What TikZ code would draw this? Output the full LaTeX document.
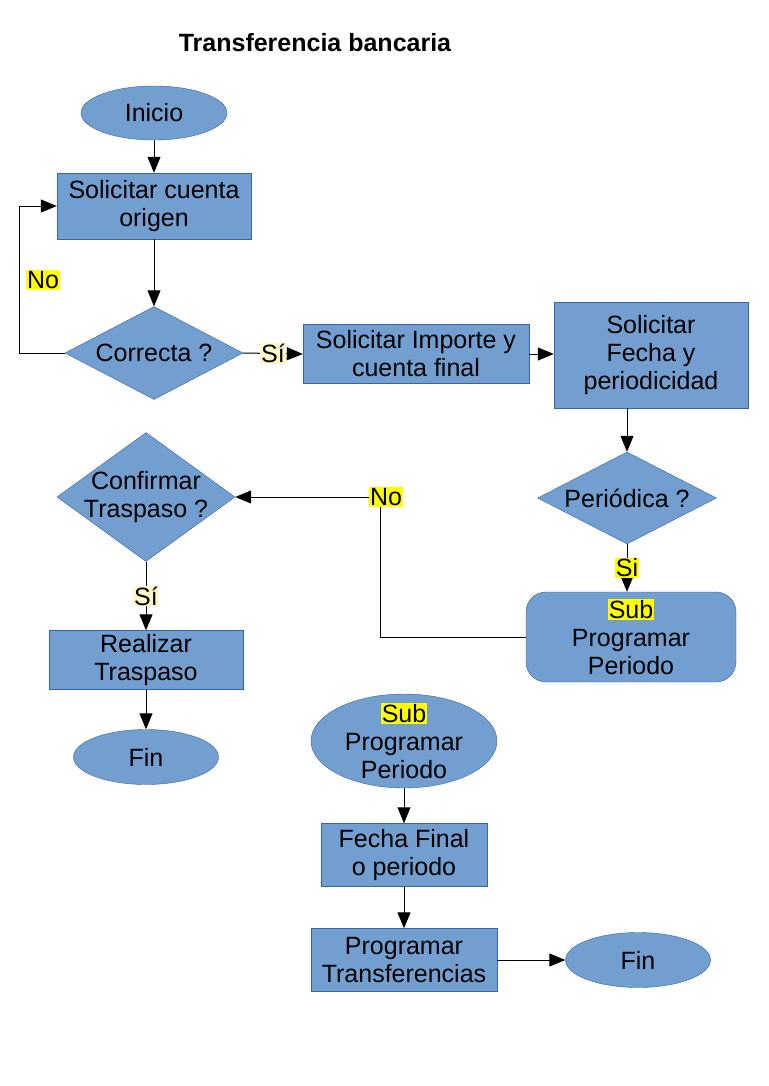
\documentclass[tikz,border=0pt]{standalone}
\usepackage{fontspec}
\setmainfont{Liberation Sans}
\usetikzlibrary{shapes.geometric,arrows.meta}
\definecolor{azul}{HTML}{729FCF}
\definecolor{azulborde}{HTML}{3465A4}
\definecolor{amarillo}{HTML}{FFFF00}
\definecolor{crema}{HTML}{FFF9C8}
\setlength{\fboxsep}{1pt}
\begin{document}
\begin{tikzpicture}[x=1pt,y=-1pt,
    font=\fontsize{25}{28}\selectfont,
    proceso/.style={rectangle,draw=azulborde,fill=azul,align=center,inner sep=0pt},
    decision/.style={diamond,draw=azulborde,fill=azul,align=center,inner sep=0pt,shape aspect=1.9},
    terminal/.style={ellipse,draw=azulborde,fill=azul,align=center,inner sep=0pt},
    flecha/.style={line width=1pt,-{Triangle[length=16pt,width=13pt]}},
    no/.style={fill=amarillo,inner sep=1pt},
    si/.style={fill=crema,inner sep=1pt}]
    \fill[white] (0,0) rectangle (768,1086);
    \useasboundingbox (0,0) rectangle (768,1086);
    \node (titulo) at (315,43) {\bfseries Transferencia bancaria};
    \node[terminal,minimum width=146,minimum height=54] (inicio) at (154,113) {Inicio};
    \node[proceso,minimum width=194,minimum height=66] (cuenta) at (154,206) {Solicitar cuenta\\origen};
    \node[decision,minimum width=178,minimum height=93] (correcta) at (154,353) {Correcta ?};
    \node[proceso,minimum width=226,minimum height=59] (importe) at (416,354) {Solicitar Importe y\\cuenta final};
    \node[proceso,minimum width=194,minimum height=106] (fecha) at (651,355) {Solicitar\\Fecha y\\periodicidad};
    \node[decision,minimum width=179,minimum height=92] (perio) at (627,498) {Periódica ?};
    \node[proceso,rounded corners=20pt,minimum width=210,minimum height=90] (subprog) at (631,637) {\colorbox{amarillo}{Sub}\\Programar\\Periodo};
    \node[decision,minimum width=178,minimum height=129,inner sep=-10pt,shape aspect=1.4] (confirmar) at (146,497) {Confirmar\\Traspaso ?};
    \node[proceso,minimum width=194,minimum height=59] (realizar) at (146,660) {Realizar\\Traspaso};
    \node[terminal,minimum width=145,minimum height=55] (fin) at (146,757) {Fin};
    \node[terminal,minimum width=186,minimum height=94,inner sep=-9pt] (sub) at (404,741) {\colorbox{amarillo}{Sub}\\Programar\\Periodo};
    \node[proceso,minimum width=166,minimum height=63] (final) at (404,855) {Fecha Final\\o periodo};
    \node[proceso,minimum width=186,minimum height=63] (transf) at (404,960) {Programar\\Transferencias};
    \node[terminal,minimum width=145,minimum height=55] (fin2) at (638,960) {Fin};
    \coordinate (codo) at (380,497);
    \draw[flecha] (inicio) -- (cuenta);
    \draw[flecha] (cuenta) -- (correcta);
    \draw[flecha] (correcta.west) -- ++(-45,0) |- (cuenta.west);
    \node[no] (nocuenta) at (43,280) {No};
    \draw[flecha] (correcta.east) -- node[si]{Sí} (importe.west);
    \draw[flecha] (importe.east) -- (importe.east -| fecha.west);
    \draw[flecha] (perio.north |- fecha.south) -- (perio.north);
    \draw[flecha] (perio.south) -- node[no]{Si} (perio.south |- subprog.north);
    \draw[flecha] (subprog.west) -| (codo) -- (confirmar.east);
    \node[no] (noperio) at (386,497) {No};
    \draw[flecha] (confirmar.south) -- node[si]{Sí} (realizar.north);
    \draw[flecha] (realizar) -- (fin);
    \draw[flecha] (sub) -- (final);
    \draw[flecha] (final) -- (transf);
    \draw[flecha] (transf) -- (fin2);
\end{tikzpicture}
\end{document}
